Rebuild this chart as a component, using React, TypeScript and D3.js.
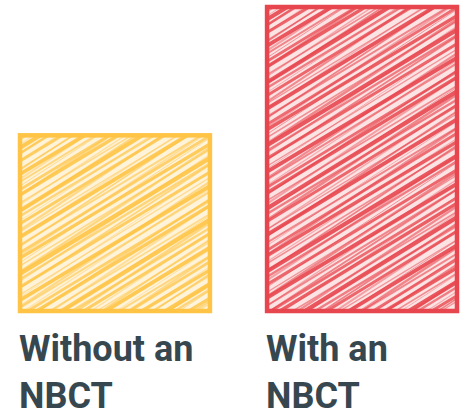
import React, { useRef, useEffect } from 'react';
import * as d3 from 'd3';

const categories = ['Without an NBCT', 'With an NBCT'];
const values = [7, 12];
const labelLines = [['Without an', 'NBCT'], ['With an', 'NBCT']];
const strokeColors = ['#FFC445', '#E8464E'];
const tintColors = ['#FFF3DA', '#FCE3E4'];

// hatch "sketch" variation, cycled per line
const hatchWidths = [3.4, 1.6, 4.2, 2.4, 3.0, 1.3, 3.8, 2.0, 2.8];
const hatchAlphas = [0.85, 0.55, 0.9, 0.65, 0.8, 0.5, 0.9, 0.6, 0.75];

const App: React.FC = () => {
    const svgRef = useRef<SVGSVGElement>(null);

    useEffect(() => {
        if (!svgRef.current) return;
        const width = 465;
        const height = 419;

        d3.select(svgRef.current).selectAll('*').remove();
        const svg = d3.select(svgRef.current)
            .attr('width', width)
            .attr('height', height);

        const x = d3.scaleBand<string>()
            .domain(categories)
            .range([18, 459])
            .paddingInner(0.215)
            .paddingOuter(0);

        const y = d3.scaleLinear()
            .domain([0, d3.max(values)!])
            .range([313, 5]);

        const defs = svg.append('defs');

        // two passes of strokes at slightly different angles, like a hand sketch
        const passes = [
            { deg: 31, gap: 7.0, shift: 0, scale: 1 },
            { deg: 33, gap: 8.5, shift: 3, scale: 0.6 },
        ];

        categories.forEach((c, i) => {
            const x0 = x(c)!;
            const w = x.bandwidth();
            const y0 = y(values[i]);
            const h = y(0) - y0;

            defs.append('clipPath')
                .attr('id', `clip-${i}`)
                .append('rect')
                .attr('x', x0 + 2).attr('y', y0 + 2).attr('width', w - 4).attr('height', h - 4);

            const g = svg.append('g');

            g.append('rect')
                .attr('x', x0).attr('y', y0)
                .attr('width', w).attr('height', h)
                .attr('fill', tintColors[i]);

            const hatch = g.append('g').attr('clip-path', `url(#clip-${i})`);
            passes.forEach((p, pi) => {
                const tan = Math.tan(p.deg * Math.PI / 180);
                const lines = d3.range(p.shift, h + w * tan + 12, p.gap);
                hatch.append('g').selectAll('line')
                    .data(lines)
                    .enter()
                    .append('line')
                    .attr('x1', x0 - 4)
                    .attr('y1', (d, k) => y0 + d + 4 * tan + (k % 3) * 0.8)
                    .attr('x2', x0 + w + 4)
                    .attr('y2', (d, k) => y0 + d - (w + 4) * tan - (k % 2) * 1.5)
                    .attr('stroke', strokeColors[i])
                    .attr('stroke-width', (d, k) => hatchWidths[(k + pi * 4) % hatchWidths.length] * p.scale)
                    .attr('stroke-opacity', (d, k) => hatchAlphas[(k + pi * 2) % hatchAlphas.length] * (pi ? 0.7 : 1))
                    .attr('stroke-linecap', 'round');
            });

            g.append('rect')
                .attr('x', x0 + 2).attr('y', y0 + 2)
                .attr('width', w - 4).attr('height', h - 4)
                .attr('fill', 'none')
                .attr('stroke', strokeColors[i])
                .attr('stroke-width', 4.5);

            const label = svg.append('text')
                .attr('x', x0 + 1)
                .attr('y', 361)
                .attr('fill', '#37474F')
                .style('font-family', 'Roboto, "Noto Sans", sans-serif')
                .style('font-weight', '700')
                .style('font-size', '36px');
            labelLines[i].forEach((t, j) => {
                label.append('tspan')
                    .attr('x', x0 + 1)
                    .attr('dy', j === 0 ? 0 : 47)
                    .text(t);
            });
        });
    }, []);

    return (
        <svg ref={svgRef} style={{ position: 'absolute', left: 0, top: 0, display: 'block' }}></svg>
    );
};

export default App;
